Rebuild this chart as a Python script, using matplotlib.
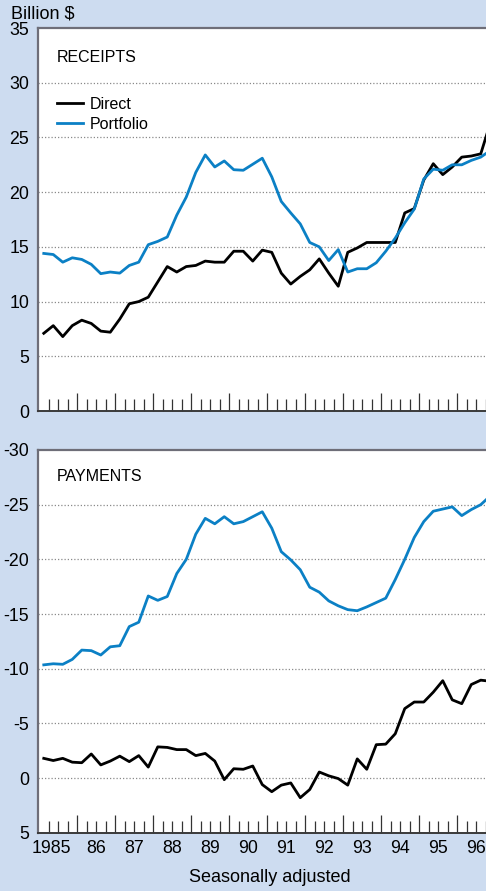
import matplotlib
matplotlib.use("Agg")
import matplotlib.pyplot as plt

plt.rcParams["font.family"] = ["Liberation Sans", "DejaVu Sans"]
plt.rcParams["axes.unicode_minus"] = False

BG = "#cddcf0"
BLUE = "#0b80c5"
BLACK = "#000000"

YEARS = list(range(1985, 1997))
YEAR_LABELS = ["1985", "86", "87", "88", "89", "90", "91", "92", "93", "94", "95", "96"]

# quarterly, 1985Q1 .. 1996Q4, billions of dollars
receipts_direct = [7.1, 7.8, 6.8, 7.8, 8.3, 8.0, 7.3, 7.2, 8.4, 9.8,
                   10.0, 10.4, 11.8, 13.2, 12.7, 13.2, 13.3, 13.7, 13.6, 13.6,
                   14.6, 14.6, 13.7, 14.7, 14.5, 12.6, 11.6, 12.3, 12.9, 13.9,
                   12.6, 11.4, 14.5, 14.9, 15.4, 15.4, 15.4, 15.4, 18.1, 18.5,
                   21.1, 22.6, 21.6, 22.3, 23.2, 23.3, 23.5, 26.3]
receipts_portfolio = [14.4, 14.3, 13.6, 14.0, 13.85, 13.4, 12.55, 12.7, 12.6, 13.3,
                      13.6, 15.2, 15.5, 15.9, 17.9, 19.55, 21.8, 23.4, 22.3, 22.85,
                      22.05, 22.0, 22.55, 23.1, 21.4, 19.15, 18.1, 17.1, 15.4, 15.0,
                      13.75, 14.75, 12.7, 13.0, 13.0, 13.55, 14.6, 15.8, 17.2, 18.45,
                      21.2, 22.1, 22.0, 22.5, 22.5, 22.9, 23.2, 23.8]
payments_direct = [-1.8, -1.6, -1.8, -1.45, -1.4, -2.2, -1.2, -1.55, -2.0, -1.5,
                   -2.05, -1.0, -2.85, -2.8, -2.6, -2.6, -2.05, -2.25, -1.55, 0.15,
                   -0.85, -0.8, -1.1, 0.6, 1.25, 0.65, 0.45, 1.8, 1.05, -0.55,
                   -0.2, 0.05, 0.65, -1.75, -0.8, -3.05, -3.1, -4.05, -6.35, -6.95,
                   -6.95, -7.85, -8.9, -7.15, -6.8, -8.55, -8.95, -8.85]
payments_portfolio = [-10.35, -10.45, -10.4, -10.85, -11.7, -11.65, -11.25, -12.0, -12.1, -13.85,
                      -14.25, -16.65, -16.25, -16.6, -18.7, -20.0, -22.3, -23.75, -23.25, -23.9,
                      -23.25, -23.45, -23.9, -24.35, -22.85, -20.7, -19.95, -19.05, -17.45, -17.0,
                      -16.2, -15.75, -15.4, -15.3, -15.65, -16.05, -16.45, -18.15, -20.0, -22.0,
                      -23.45, -24.4, -24.6, -24.8, -24.0, -24.55, -25.0, -25.8]

QUARTER_X = [year + (q - 0.5) / 4 for year in YEARS for q in range(1, 5)]

W, H = 486, 891
X_LEFT, X_RIGHT = 1984.96, 1996.763


def add_axes_px(fig, left, top, right, bottom):
    return fig.add_axes([left / W, 1 - bottom / H, (right - left) / W, (bottom - top) / H])


def style_panel(ax, ylim, yticks, grid_values):
    ax.set_facecolor("white")
    ax.set_xlim(X_LEFT, X_RIGHT)
    ax.set_ylim(*ylim)
    ax.set_yticks(yticks)
    ax.set_yticklabels([str(t) for t in yticks])
    ax.tick_params(axis="y", length=0, pad=6, labelsize=12.8)

    ax.set_xticks(YEARS[1:])
    ax.set_xticks([y + q / 4 for y in YEARS for q in (1, 2, 3)], minor=True)
    ax.tick_params(axis="x", which="both", direction="in", labelbottom=False,
                   color="#333333", width=0.9)
    ax.tick_params(axis="x", which="major", length=13)
    ax.tick_params(axis="x", which="minor", length=8.5)

    for value in grid_values:
        ax.axhline(value, color="#8a8a8a", linewidth=0.9, linestyle=(0, (1, 1.6)), zorder=1)

    ax.spines["right"].set_visible(False)
    for side in ("left", "top"):
        ax.spines[side].set_color("#6e6e78")
        ax.spines[side].set_linewidth(1.6)
    ax.spines["bottom"].set_color("#3a3a3a")
    ax.spines["bottom"].set_linewidth(1.4)


def main():
    fig = plt.figure(figsize=(W / 100, H / 100), dpi=100, facecolor=BG)

    top = add_axes_px(fig, 37.5, 28, 486, 411)
    bottom = add_axes_px(fig, 37.5, 450, 486, 832.7)

    style_panel(top, (0, 35), list(range(0, 36, 5)), [5, 10, 15, 20, 25, 30])
    style_panel(bottom, (5, -30), list(range(-30, 6, 5)), [-25, -20, -15, -10, -5, 0])

    top.plot(QUARTER_X, receipts_direct, color=BLACK, linewidth=2.0, label="Direct", zorder=3)
    top.plot(QUARTER_X, receipts_portfolio, color=BLUE, linewidth=2.0, label="Portfolio", zorder=3)
    bottom.plot(QUARTER_X, payments_portfolio, color=BLUE, linewidth=2.0, zorder=3)
    bottom.plot(QUARTER_X, payments_direct, color=BLACK, linewidth=2.0, zorder=3)

    top.text(0.0435, 0.9217, "RECEIPTS", transform=top.transAxes, fontsize=11.5,
             ha="left", va="center")
    bottom.text(0.0435, 0.932, "PAYMENTS", transform=bottom.transAxes, fontsize=11.5,
                ha="left", va="center")
    top.legend(loc="upper left", bbox_to_anchor=(0.0435, 0.82), frameon=False,
               fontsize=11.5, handlelength=1.65, handletextpad=0.4, labelspacing=0.3,
               borderpad=0, borderaxespad=0)

    for year, label in zip(YEARS, YEAR_LABELS):
        x = year + 0.32 if year == 1985 else year + 0.5
        bottom.text(x, -0.04, label, transform=bottom.get_xaxis_transform(),
                    ha="center", va="center", fontsize=12.8)

    fig.text(10.7 / W, 1 - 14 / H, "Billion $", fontsize=13, ha="left", va="center")
    fig.text(270 / W, 1 - 878 / H, "Seasonally adjusted", fontsize=13, ha="center", va="center")

    fig.savefig("out.png", dpi=100, facecolor=BG)
    plt.close(fig)


if __name__ == "__main__":
    main()
